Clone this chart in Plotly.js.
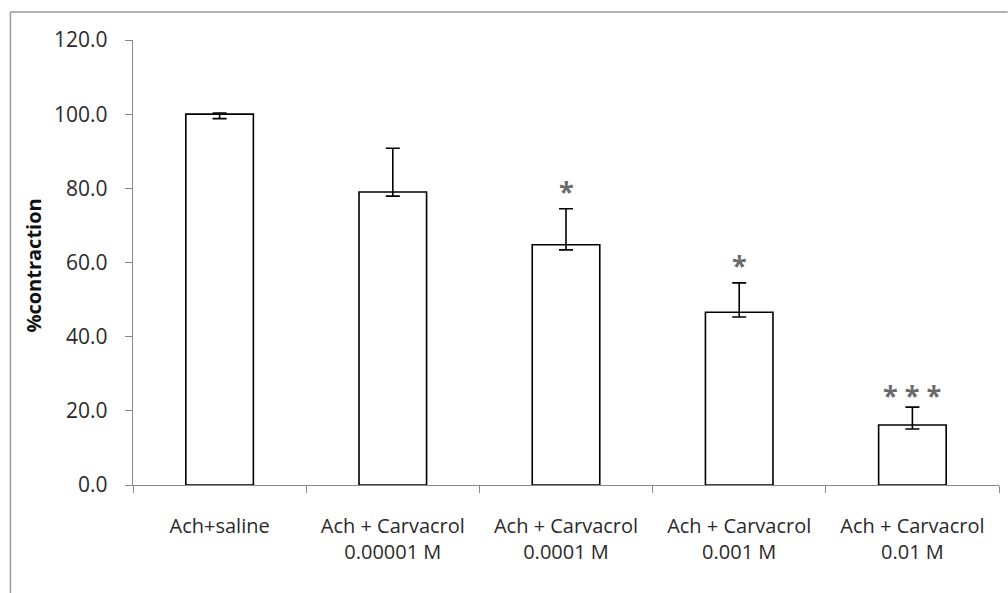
<!DOCTYPE html>
<html>
<head>
<meta charset="utf-8">
<script src="https://cdn.plot.ly/plotly-3.0.1.min.js"></script>
<style>html,body{margin:0;padding:0;background:#fff;}#chart{width:1008px;height:593px;}</style>
</head>
<body>
<div id="chart"></div>
<script>
var categories = ["Ach+saline", "Ach + Carvacrol<br>0.00001 M", "Ach + Carvacrol<br>0.0001 M", "Ach + Carvacrol<br>0.001 M", "Ach + Carvacrol<br>0.01 M"];
var values = [100.0, 79.0, 64.8, 46.6, 16.2];
var errPlus = [0.3, 11.8, 9.7, 7.9, 4.8];
var errMinus = [1.2, 1.1, 1.4, 1.3, 1.1];
var sigLabels = ["", "", "*", "*", "* * *"];
var sigY = [0, 0, 79.5, 59.5, 24.5];
var yTicks = [0, 20, 40, 60, 80, 100, 120];

var trace = {
  type: "bar",
  x: categories,
  y: values,
  width: 0.39,
  marker: {color: "#ffffff", line: {color: "#000000", width: 1.6}},
  error_y: {type: "data", symmetric: false, array: errPlus, arrayminus: errMinus,
            color: "#000000", thickness: 1.6, width: 7},
  hoverinfo: "none"
};

var annotations = [];
for (var i = 0; i < categories.length; i++) {
  if (sigLabels[i]) {
    annotations.push({x: categories[i], y: sigY[i], xref: "x", yref: "y", text: "<b>" + sigLabels[i] + "</b>",
      showarrow: false, font: {family: "Open Sans, sans-serif", size: 27, color: "#6a6a6a"},
      yanchor: "middle"});
  }
}
annotations.push({xref: "paper", yref: "paper", x: -0.115, y: 0.494, text: "<b>%contraction</b>",
  textangle: -90, showarrow: false, xanchor: "center", yanchor: "middle",
  font: {family: "Open Sans, sans-serif", size: 20, color: "#111111"}});

var layout = {
  width: 1008, height: 593,
  margin: {l: 133, r: 9, t: 40, b: 108},
  paper_bgcolor: "#ffffff", plot_bgcolor: "#ffffff",
  showlegend: false,
  xaxis: {type: "category", tickson: "boundaries", ticks: "outside", ticklen: 7, tickcolor: "#888888",
          ticklabelstandoff: 23,
          showline: true, linecolor: "#888888", linewidth: 1.2, showgrid: false, zeroline: false,
          tickfont: {family: "Open Sans, sans-serif", size: 20, color: "#2a2a2a"}, automargin: false},
  yaxis: {range: [0, 120], tickvals: yTicks, tickformat: ".1f", ticks: "outside", ticklen: 7, tickcolor: "#888888",
          ticklabelstandoff: 13,
          showline: true, linecolor: "#888888", linewidth: 1.2, showgrid: false, zeroline: false,
          tickfont: {family: "Open Sans, sans-serif", size: 21, color: "#2a2a2a"}, automargin: false},
  annotations: annotations,
  shapes: [
    {type: "line", xref: "paper", yref: "paper", x0: -0.1415, x1: 1.01, y0: 1.063, y1: 1.063, line: {color: "#999999", width: 1.5}},
    {type: "line", xref: "paper", yref: "paper", x0: -0.1415, x1: -0.1415, y0: 1.063, y1: -0.3, line: {color: "#999999", width: 1.5}}
  ]
};

Plotly.newPlot("chart", [trace], layout, {displayModeBar: false, staticPlot: true});
</script>
</body>
</html>
